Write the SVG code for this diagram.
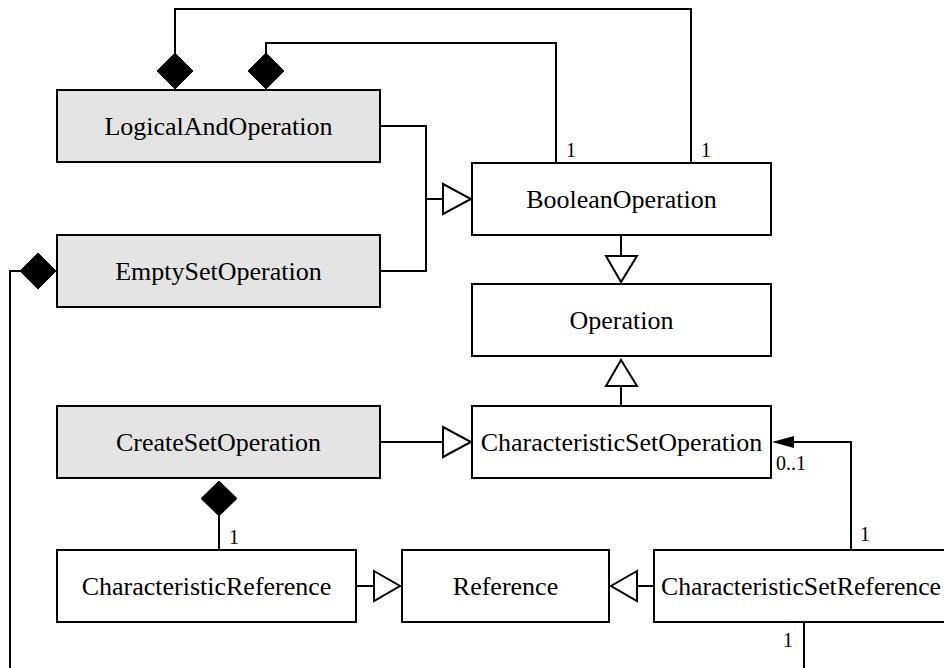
<svg xmlns="http://www.w3.org/2000/svg" width="944" height="668" viewBox="0 0 944 668">
<style>
.box{fill:#fff;stroke:#000;stroke-width:2}
.abs{fill:#e4e4e4;stroke:#000;stroke-width:2}
.t{font-family:'Liberation Serif','Times New Roman',Times,serif;font-size:26px;text-anchor:middle;fill:#000}
.m{font-family:'Liberation Serif','Times New Roman',Times,serif;font-size:20px;fill:#000}
.ln{fill:none;stroke:#000;stroke-width:2}
.gen{fill:#fff;stroke:#000;stroke-width:2}
.dia{fill:#000;stroke:#000;stroke-width:1}
</style>
<rect width="944" height="668" fill="#fff"/>
<g id="connectors">
  <polyline class="ln" points="175,53 175,9 691,9 691,163"/>
  <polygon class="dia" points="175,53 193,71 175,89 157,71"/>
  <polyline class="ln" points="266,53 266,43 556,43 556,163"/>
  <polygon class="dia" points="266,53 284,71 266,89 248,71"/>
  <text class="m" x="566" y="157">1</text>
  <text class="m" x="701" y="157">1</text>
  <polyline class="ln" points="380,126 426,126 426,271 380,271"/>
  <line class="ln" x1="426" y1="199" x2="443" y2="199"/>
  <polygon class="gen" points="443,184 471,199 443,214"/>
  <polygon class="dia" points="56,271 38,289 20,271 38,253"/>
  <polyline class="ln" points="20,271 10,271 10,668"/>
  <line class="ln" x1="621" y1="235" x2="621" y2="256"/>
  <polygon class="gen" points="606,256 637,256 621,282"/>
  <line class="ln" x1="621" y1="386" x2="621" y2="406"/>
  <polygon class="gen" points="606,386 637,386 621,360"/>
  <line class="ln" x1="380" y1="442" x2="443" y2="442"/>
  <polygon class="gen" points="443,427 471,442 443,457"/>
  <polygon class="dia" points="219,481 237,498.5 219,516 201,498.5"/>
  <line class="ln" x1="219" y1="516" x2="219" y2="550"/>
  <text class="m" x="229" y="544">1</text>
  <line class="ln" x1="356" y1="586" x2="374" y2="586"/>
  <polygon class="gen" points="374,571 400,586 374,601"/>
  <line class="ln" x1="637" y1="586" x2="654" y2="586"/>
  <polygon class="gen" points="637,571 611,586 637,601"/>
  <polyline class="ln" points="851,550 851,442 790,442"/>
  <polygon fill="#000" points="772,442 794,436 794,448"/>
  <text class="m" x="776" y="470">0..1</text>
  <text class="m" x="860" y="541">1</text>
  <line class="ln" x1="804" y1="622" x2="804" y2="668"/>
  <text class="m" x="783" y="647">1</text>
</g>
<g id="LogicalAndOperation"><rect class="abs" x="57" y="90" width="323" height="72"/><text class="t" x="218.5" y="135">LogicalAndOperation</text></g>
<g id="EmptySetOperation"><rect class="abs" x="57" y="235" width="323" height="72"/><text class="t" x="218.5" y="280">EmptySetOperation</text></g>
<g id="BooleanOperation"><rect class="box" x="472" y="163" width="299" height="72"/><text class="t" x="621.5" y="208">BooleanOperation</text></g>
<g id="Operation"><rect class="box" x="472" y="284" width="299" height="72"/><text class="t" x="621.5" y="329">Operation</text></g>
<g id="CharacteristicSetOperation"><rect class="box" x="472" y="406" width="299" height="72"/><text class="t" x="621.5" y="451">CharacteristicSetOperation</text></g>
<g id="CreateSetOperation"><rect class="abs" x="57" y="406" width="323" height="72"/><text class="t" x="218.5" y="451">CreateSetOperation</text></g>
<g id="CharacteristicReference"><rect class="box" x="57" y="550" width="299" height="72"/><text class="t" x="206.5" y="595">CharacteristicReference</text></g>
<g id="Reference"><rect class="box" x="402" y="550" width="207" height="72"/><text class="t" x="505.5" y="595">Reference</text></g>
<g id="CharacteristicSetReference"><rect class="box" x="654" y="550" width="320" height="72"/><text class="t" x="661" y="595" style="text-anchor:start" textLength="280" lengthAdjust="spacingAndGlyphs">CharacteristicSetReference</text></g>
</svg>
